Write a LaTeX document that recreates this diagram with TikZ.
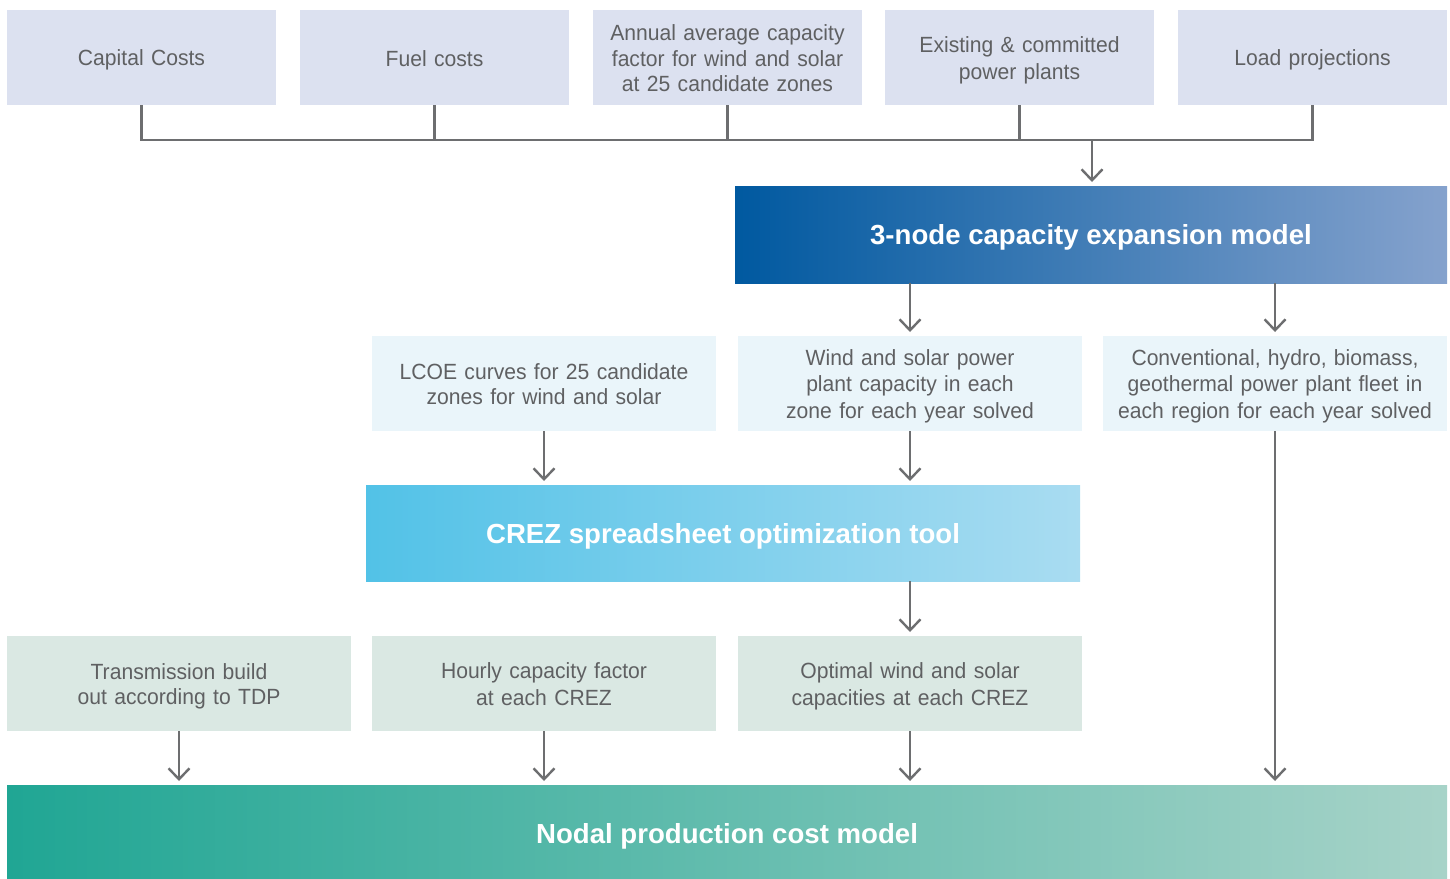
\documentclass[tikz,border=0pt]{standalone}
\usepackage{fontspec}
\setmainfont{Liberation Sans}
\newfontfamily\boxfont{Liberation Sans}[FakeStretch=0.96]
\usetikzlibrary{arrows.meta}
\definecolor{topfill}{HTML}{DCE1F0}
\definecolor{midfill}{HTML}{EAF5FA}
\definecolor{lowfill}{HTML}{DAE8E3}
\definecolor{txtgray}{HTML}{5F6062}
\definecolor{linegray}{HTML}{6D6E70}
\definecolor{blueA}{HTML}{0059A0}
\definecolor{blueB}{HTML}{85A2CD}
\definecolor{cyanA}{HTML}{52C2E7}
\definecolor{cyanB}{HTML}{A9DCF1}
\definecolor{greenA}{HTML}{20A694}
\definecolor{greenB}{HTML}{A7D3C8}
% struts that centre the cap height of the lines inside a box
\newcommand\txtstrut{\rule[-4.35pt]{0pt}{25.8pt}}
\newcommand\ttlstrut{\rule[-5.45pt]{0pt}{32pt}}
\begin{document}
\begin{tikzpicture}[x=1pt,y=-1pt,
  box/.style={inner sep=0pt, outer sep=0pt, align=center, text=txtgray,
    font=\boxfont\fontsize{22}{25.8}\selectfont, minimum height=95pt,
    execute at begin node=\txtstrut, execute at end node=\txtstrut},
  topbox/.style={box, fill=topfill, minimum width=269pt, text width=262pt},
  midbox/.style={box, fill=midfill, minimum width=344pt, text width=336pt},
  lowbox/.style={box, fill=lowfill, minimum width=344pt, text width=336pt},
  bigbox/.style={inner sep=0pt, outer sep=0pt, text=white,
    font=\fontsize{27.6}{32}\selectfont\bfseries,
    execute at begin node=\ttlstrut},
  conn/.style={draw=linegray, line width=2.4pt},
  arr/.style={conn, -{Straight Barb[length=11pt,width=21pt,line width=2.4pt]}, shorten >=4pt}]
\useasboundingbox (0,0) rectangle (1450,878);

% input row
\node[topbox] (cap)  at (141.5,57.5)  {Capital Costs};
\node[topbox] (fuel) at (434.5,57.5)  {Fuel costs};
\node[topbox] (acf)  at (727.5,57.5)  {Annual average capacity\\factor for wind and solar\\at 25 candidate zones};
\node[topbox] (exist) at (1019.5,57.5) {Existing \& committed\\power plants};
\node[topbox] (load) at (1312.5,57.5) {Load projections};

% capacity expansion model
\node[bigbox, minimum width=712pt, minimum height=97pt,
  left color=blueA, right color=blueB] (cem) at (1091,234.5) {3-node capacity expansion model};

% outputs of the expansion model
\node[midbox] (lcoe) at (544,383.5)  {LCOE curves for 25 candidate\\zones for wind and solar};
\node[midbox] (wsp)  at (910,383.5)  {Wind and solar power\\plant capacity in each\\zone for each year solved};
\node[midbox] (conv) at (1275,383.5) {Conventional, hydro, biomass,\\geothermal power plant fleet in\\each region for each year solved};

% CREZ tool
\node[bigbox, minimum width=714pt, minimum height=96pt,
  left color=cyanA, right color=cyanB] (crez) at (723,533) {CREZ spreadsheet optimization tool};

% inputs to the production cost model
\node[lowbox] (tdp)  at (179,683.5) {Transmission build\\out according to TDP};
\node[lowbox] (hcf)  at (544,683.5) {Hourly capacity factor\\at each CREZ};
\node[lowbox] (opt)  at (910,683.5) {Optimal wind and solar\\capacities at each CREZ};

% production cost model (runs past the lower edge of the page)
\node[bigbox, minimum width=1440pt, minimum height=97pt,
  left color=greenA, right color=greenB] (npc) at (727,833.5) {Nodal production cost model};

% collecting bus of the inputs
\coordinate (busL) at (141.5,140);
\coordinate (busR) at (1312.5,140);
\coordinate (busA) at (1092,140);
\draw[conn, line join=miter] (cap.south) -- (busL) -- (busR) -- (load.south);
\draw[conn] (fuel.south) -- (fuel.south |- busL);
\draw[conn] (acf.south) -- (acf.south |- busL);
\draw[conn] (exist.south) -- (exist.south |- busL);
\draw[arr] (busA) -- (busA |- cem.north);

% flows
\draw[arr] (cem.south -| wsp.north) -- (wsp.north);
\draw[arr] (cem.south -| conv.north) -- (conv.north);
\draw[arr] (lcoe.south) -- (lcoe.south |- crez.north);
\draw[arr] (wsp.south) -- (wsp.south |- crez.north);
\draw[arr] (crez.south -| opt.north) -- (opt.north);
\draw[arr] (tdp.south) -- (tdp.south |- npc.north);
\draw[arr] (hcf.south) -- (hcf.south |- npc.north);
\draw[arr] (opt.south) -- (opt.south |- npc.north);
\draw[arr] (conv.south) -- (conv.south |- npc.north);
\end{tikzpicture}
\end{document}
